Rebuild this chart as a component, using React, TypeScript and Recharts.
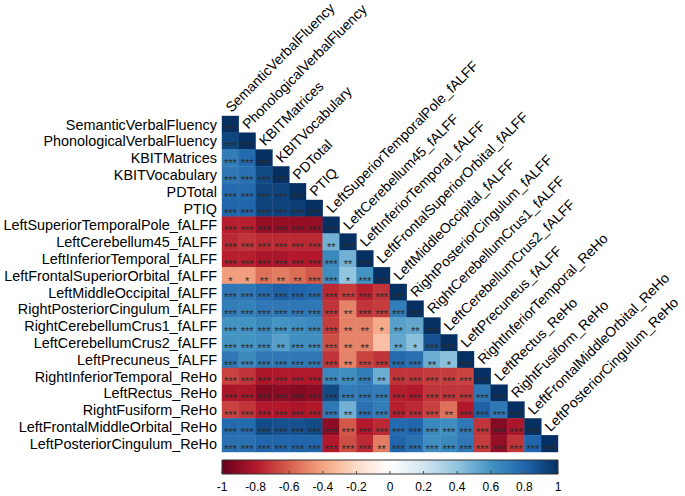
import React from "react";
import { ComposedChart, ReferenceArea, Scatter, ScatterChart, XAxis, YAxis } from "recharts";

const VARIABLES = [
  "SemanticVerbalFluency",
  "PhonologicalVerbalFluency",
  "KBITMatrices",
  "KBITVocabulary",
  "PDTotal",
  "PTIQ",
  "LeftSuperiorTemporalPole_fALFF",
  "LeftCerebellum45_fALFF",
  "LeftInferiorTemporal_fALFF",
  "LeftFrontalSuperiorOrbital_fALFF",
  "LeftMiddleOccipital_fALFF",
  "RightPosteriorCingulum_fALFF",
  "RightCerebellumCrus1_fALFF",
  "LeftCerebellumCrus2_fALFF",
  "LeftPrecuneus_fALFF",
  "RightInferiorTemporal_ReHo",
  "LeftRectus_ReHo",
  "RightFusiform_ReHo",
  "LeftFrontalMiddleOrbital_ReHo",
  "LeftPosteriorCingulum_ReHo",
];

// lower triangle, row by row, diagonal (=1) left out
const BEHAVIOUR_ROWS: number[][] = [
  [],
  [0.92],
  [0.7, 0.78],
  [0.72, 0.75, 0.9],
  [0.78, 0.78, 0.92, 0.93],
  [0.8, 0.8, 0.93, 0.93, 0.95],
];

const FALFF_ROWS: number[][] = [
  [-0.78, -0.78, -0.88, -0.88, -0.88, -0.88],
  [-0.75, -0.72, -0.75, -0.75, -0.75, -0.75, 0.48],
  [-0.78, -0.78, -0.82, -0.82, -0.8, -0.8, 0.65, 0.48],
  [-0.42, -0.42, -0.55, -0.52, -0.56, -0.62, 0.62, 0.4, 0.6],
  [0.72, 0.72, 0.78, 0.82, 0.8, 0.78, -0.75, -0.7, -0.78, -0.72],
  [0.7, 0.68, 0.72, 0.72, 0.72, 0.72, -0.72, -0.5, -0.72, -0.7, 0.7],
  [0.6, 0.6, 0.65, 0.6, 0.62, 0.65, -0.7, -0.5, -0.5, -0.38, 0.55, 0.52],
  [0.6, 0.6, 0.62, 0.55, 0.62, 0.62, -0.65, -0.5, -0.5, -0.3, 0.52, 0.42, 0.88],
  [0.72, 0.65, 0.72, 0.72, 0.72, 0.72, -0.72, -0.5, -0.68, -0.72, 0.78, 0.75, 0.5, 0.42],
];

const REHO_ROWS: number[][] = [
  [-0.68, -0.72, -0.82, -0.8, -0.8, -0.8, 0.65, 0.62, 0.7, 0.5, -0.72, -0.72, -0.7, -0.7, -0.68],
  [-0.82, -0.82, -0.92, -0.9, -0.92, -0.9, 0.9, 0.7, 0.72, 0.7, -0.78, -0.8, -0.72, -0.72, -0.72, 0.72],
  [-0.68, -0.72, -0.8, -0.8, -0.82, -0.8, 0.72, 0.48, 0.75, 0.7, -0.78, -0.75, -0.68, -0.55, -0.8, 0.82, 0.72],
  [0.78, 0.78, 0.9, 0.88, 0.88, 0.9, -0.9, -0.62, -0.8, -0.75, 0.78, 0.8, 0.65, 0.62, 0.72, -0.72, -0.92, -0.82],
  [0.75, 0.75, 0.8, 0.8, 0.8, 0.8, -0.8, -0.65, -0.75, -0.52, 0.8, 0.75, 0.62, 0.65, 0.72, -0.7, -0.88, -0.72, 0.8],
];

const COLORBAR_TICKS = [-1, -0.8, -0.6, -0.4, -0.2, 0, 0.2, 0.4, 0.6, 0.8, 1];

const PALETTE = [
  "#67001F", "#B2182B", "#D6604D", "#F4A582", "#FDDBC7", "#FFFFFF",
  "#D1E5F0", "#92C5DE", "#4393C3", "#2166AC", "#053061",
];

const W = 685;
const H = 496;
const MARGIN = { top: 116, right: 127, bottom: 44, left: 222 };
const N = VARIABLES.length;
const CELL = (W - MARGIN.left - MARGIN.right) / N;
const FONT = "'Liberation Sans', Arial, sans-serif";
const ROW_LABEL_SIZE = 14.4;
const COL_LABEL_SIZE = 14;

function hexToRgb(h: string) {
  return [1, 3, 5].map((i) => parseInt(h.slice(i, i + 2), 16));
}

function colorFor(v: number) {
  const t = Math.min(Math.max((v + 1) / 2, 0), 1) * (PALETTE.length - 1);
  const i = Math.min(Math.floor(t), PALETTE.length - 2);
  const f = t - i;
  const a = hexToRgb(PALETTE[i]);
  const b = hexToRgb(PALETTE[i + 1]);
  const c = a.map((x, k) => Math.round(x + (b[k] - x) * f));
  return `rgb(${c[0]},${c[1]},${c[2]})`;
}

function stars(v: number) {
  const a = Math.abs(v);
  if (a >= 0.6) return "***";
  if (a >= 0.47) return "**";
  if (a >= 0.35) return "*";
  return "";
}

const rows = [...BEHAVIOUR_ROWS, ...FALFF_ROWS, ...REHO_ROWS];
const cells = rows.flatMap((vals, r) =>
  [...vals, 1].map((v, c) => ({ x: c + 0.5, y: r + 0.5, r: v, row: r, col: c }))
);

function CellShape(props: any) {
  const { cx, cy, payload } = props;
  const fill = colorFor(payload.r);
  const diag = payload.row === payload.col;
  const lx = cx + 1;
  const ly = cy - CELL / 2 - 3;
  return (
    <g>
      <rect x={cx - CELL / 2} y={cy - CELL / 2} width={CELL} height={CELL} fill={fill} stroke={fill} strokeWidth={0.4} />
      <text x={cx} y={cy + 9} textAnchor="middle" fontSize={11} fill="#2a2a2a" fontFamily={FONT}>
        {stars(payload.r)}
      </text>
      {payload.col === 0 && (
        <text x={cx - CELL / 2 - 5} y={cy} dy="0.36em" textAnchor="end" fontSize={ROW_LABEL_SIZE} fill="#000" fontFamily={FONT}>
          {VARIABLES[payload.row]}
        </text>
      )}
      {diag && (
        <text x={lx} y={ly} fontSize={COL_LABEL_SIZE} fill="#000" fontFamily={FONT} transform={`rotate(-45 ${lx} ${ly})`}>
          {VARIABLES[payload.col]}
        </text>
      )}
    </g>
  );
}

function ColorbarTick(props: any) {
  const { x, y, payload } = props;
  return (
    <g>
      <line x1={x} x2={x} y1={y} y2={y - 3} stroke="#444" strokeWidth={1} />
      <text x={x} y={y + 17} textAnchor="middle" fontSize={12} fill="#000" fontFamily={FONT}>
        {String(payload.value)}
      </text>
    </g>
  );
}

export default function App() {
  return (
    <div style={{ position: "absolute", left: 0, top: 0, width: W, height: H, background: "#fff" }}>
      <div style={{ position: "absolute", left: 0, top: 0 }}>
        <ScatterChart width={W} height={H} margin={MARGIN}>
          <XAxis type="number" dataKey="x" domain={[0, N]} hide />
          <YAxis type="number" dataKey="y" domain={[0, N]} reversed hide />
          <Scatter data={cells} shape={CellShape} isAnimationActive={false} />
        </ScatterChart>
      </div>
      <div style={{ position: "absolute", left: 0, top: 0, pointerEvents: "none" }}>
        <ComposedChart width={W} height={H} margin={{ top: 460, right: MARGIN.right, bottom: 0, left: MARGIN.left }}>
          <defs>
            <linearGradient id="cbar" x1="0" x2="1" y1="0" y2="0">
              {PALETTE.map((c, i) => (
                <stop key={i} offset={i / (PALETTE.length - 1)} stopColor={c} />
              ))}
            </linearGradient>
          </defs>
          <XAxis
            type="number"
            dataKey="v"
            domain={[-1, 1]}
            ticks={COLORBAR_TICKS}
            height={22}
            axisLine={false}
            tickLine={false}
            tickSize={0}
            tickMargin={0}
            tick={ColorbarTick}
            interval={0}
          />
          <YAxis type="number" domain={[0, 1]} hide />
          <ReferenceArea x1={-1} x2={1} y1={0} y2={1} fill="url(#cbar)" fillOpacity={1} stroke="#333" strokeWidth={1} ifOverflow="visible" />
          <Scatter data={COLORBAR_TICKS.map((v) => ({ v, y: 0.5 }))} dataKey="y" shape={() => null} isAnimationActive={false} />
        </ComposedChart>
      </div>
    </div>
  );
}
